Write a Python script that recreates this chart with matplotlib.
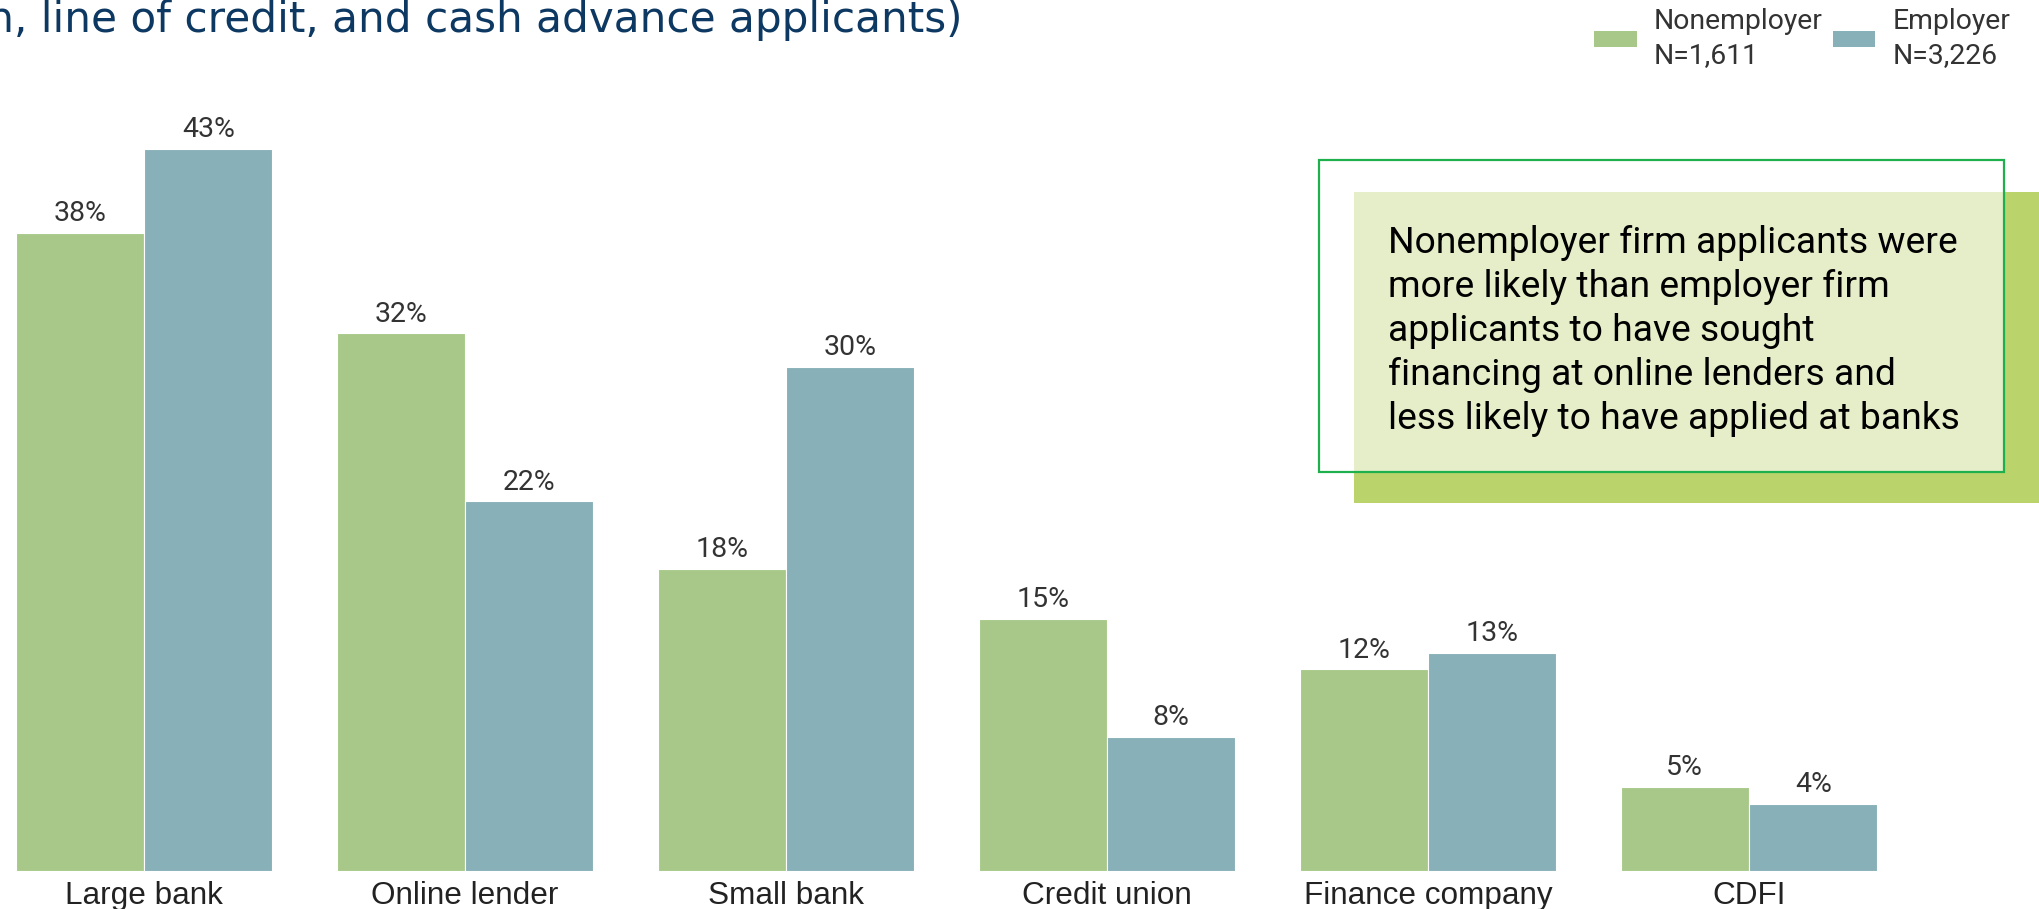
import matplotlib
matplotlib.use("Agg")
import matplotlib.pyplot as plt
from matplotlib.patches import Rectangle, Patch
import numpy as np

# ------------------------------------------------------------------
# Data
# ------------------------------------------------------------------
categories = ["Large bank", "Online lender", "Small bank",
              "Credit union", "Finance company", "CDFI"]
nonemployer = [38, 32, 18, 15, 12, 5]
employer = [43, 22, 30, 8, 13, 4]
series_names = ["Nonemployer\nN=1,611", "Employer\nN=3,226"]
title_text = "(% of loan, line of credit, and cash advance applicants)"
callout_lines = [
    "Nonemployer firm applicants were",
    "more likely than employer firm",
    "applicants to have sought",
    "financing at online lenders and",
    "less likely to have applied at banks",
]

GREEN = "#a8c889"
BLUE = "#87b0b8"
TITLE_BLUE = "#0d3862"

# ------------------------------------------------------------------
# Figure (pixel geometry: 2039 x 909 at dpi 100)
# ------------------------------------------------------------------
W, H = 2039, 909
fig = plt.figure(figsize=(W / 100, H / 100), dpi=100)
ax = fig.add_axes([0, 0, 1, 1])


def fx(px):
    return px / W


def fy(py):
    # py measured from the top of the canvas
    return 1 - py / H


# axis scaling: 321 px per category, 16.8 px per percent
x0_px, pitch = 144, 321
base_px, per_pct = 871, 16.8
ax.set_xlim(-x0_px / pitch, (W - x0_px) / pitch)
ax.set_ylim(-(H - base_px) / per_pct, base_px / per_pct)
ax.axis("off")

x = np.arange(len(categories))
bw = 0.4
b1 = ax.bar(x - bw / 2, nonemployer, bw, color=GREEN,
            edgecolor="white", linewidth=0.8)
b2 = ax.bar(x + bw / 2, employer, bw, color=BLUE,
            edgecolor="white", linewidth=0.8)

for bars, vals in [(b1, nonemployer), (b2, employer)]:
    for rect, v in zip(bars, vals):
        ax.annotate(f"{v}%", (rect.get_x() + rect.get_width() / 2, v),
                    xytext=(0, 8.5), textcoords="offset points",
                    ha="center", va="baseline", fontsize=20.5,
                    family="Roboto", color="#333333")

for xi, name in zip(x, categories):
    ax.annotate(name, (xi, 0), xytext=(0, -23.8), textcoords="offset points",
                ha="center", va="baseline", fontsize=22.7,
                family="Liberation Sans", color="#222222")

# title (runs off the left edge)
fig.text(fx(962), fy(32), title_text, ha="right", va="baseline",
         fontsize=30.3, family="DejaVu Sans", color=TITLE_BLUE)

# legend
handles = [Patch(facecolor=GREEN, edgecolor="none"),
           Patch(facecolor=BLUE, edgecolor="none")]
leg = fig.legend(handles, series_names, loc="upper right",
                 bbox_to_anchor=(fx(2010), fy(8)), ncol=2, frameon=False,
                 prop={"family": "Roboto", "size": 20.4},
                 handlelength=1.5, handleheight=0.5, handletextpad=0.6,
                 columnspacing=0.35, borderpad=0, borderaxespad=0)
for t in leg.get_texts():
    t.set_color("#333333")
    t.set_linespacing(1.35)

# callout box: shadow block, then outlined box with translucent white fill
fig.add_artist(Rectangle((fx(1354), fy(503)), fx(W + 10 - 1354), (503 - 192) / H,
                         transform=fig.transFigure, facecolor="#bbd36b",
                         edgecolor="none", zorder=3))
fig.add_artist(Rectangle((fx(1319), fy(472)), fx(2004 - 1319), (472 - 160) / H,
                         transform=fig.transFigure, facecolor=(1, 1, 1, 0.63),
                         edgecolor="#1db04d", linewidth=1.6, zorder=4))
for i, line in enumerate(callout_lines):
    fig.text(fx(1388), fy(253 + 44 * i), line, ha="left", va="baseline",
             fontsize=26.8, family="Roboto", color="black", zorder=5)

fig.savefig("out.png", dpi=100)
